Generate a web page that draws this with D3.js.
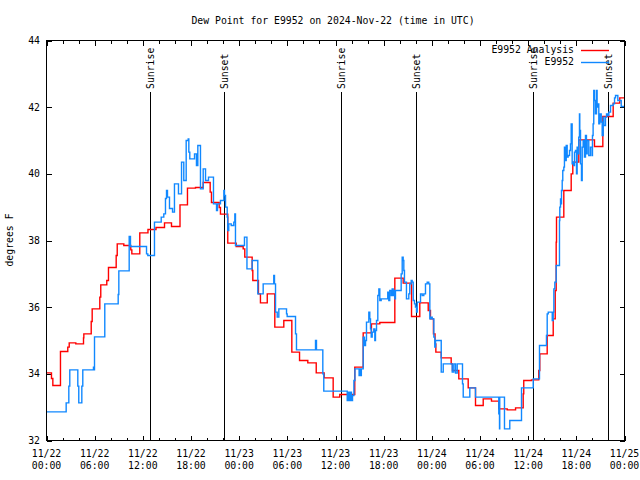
<!DOCTYPE html>
<html><head><meta charset="utf-8">
<script src="https://cdn.jsdelivr.net/npm/d3@7"></script>
<style>body{margin:0;background:#fff}svg{display:block}</style>
</head><body><svg id="c" width="640" height="480"></svg>
<script>
const titleText = "Dew Point for E9952 on 2024-Nov-22 (time in UTC)";
const yAxisLabel = "degrees F";
const xMajorHours = [0,6,12,18,24,30,36,42,48,54,60,66,72];
const xMinorHours = [2,4,8,10,14,16,20,22,26,28,32,34,38,40,44,46,50,52,56,58,62,64,68,70];
const xTickDates = ["11/22","11/22","11/22","11/22","11/23","11/23","11/23","11/23","11/24","11/24","11/24","11/24","11/25"];
const xTickTimes = ["00:00","06:00","12:00","18:00","00:00","06:00","12:00","18:00","00:00","06:00","12:00","18:00","00:00"];
const yTicks = [32,34,36,38,40,42,44];
const sunHours = [12.95,22.15,36.72,46.06,60.64,69.98];
const sunLabels = ["Sunrise","Sunset","Sunrise","Sunset","Sunrise","Sunset"];
const seriesNames = ["E9952 Analysis","E9952"];
const seriesColors = ["#ff0000","#1088ff"];

// Analysis (hours since 11/22 00:00 UTC, deg F)
const analysisHours = [0,0.62,0.79,1.74,2.65,2.83,3.65,4.61,4.65,5.57,5.69,6.64,6.76,7.51,7.72,8.68,8.81,9.63,10.50,10.63,11.62,12.64,13.64,14.70,15.57,16.63,17.56,18.56,19.52,20.39,20.55,21.51,21.67,22.58,23.63,24.50,24.70,25.62,25.70,26.40,26.65,27.50,28.44,29.56,30.56,31.52,32.55,33.60,34.59,35.71,36.53,38.40,39.45,40.48,41.52,43.39,44.43,45.47,46.50,47.55,47.83,48.20,48.40,48.50,49.17,50.41,50.57,51.36,52.53,53.44,54.40,55.43,56.34,57.39,58.43,59.38,59.45,60.41,61.32,61.45,62.37,63.12,63.37,63.49,63.53,64.44,65.36,65.56,66.31,68.26,69.30,70.59,71.41];
const analysisValues = [34.03,33.86,33.65,34.67,34.8,34.93,34.9,35.08,35.2,35.57,35.95,36.3,36.67,36.8,37.19,37.55,37.9,37.85,37.72,37.6,38.23,38.33,38.39,38.53,38.42,39.07,39.57,39.59,39.74,39.45,39.14,38.99,38.79,37.92,37.82,37.75,37.5,37.1,36.8,36.4,36.13,36.4,35.4,35.6,34.65,34.4,34.33,34.03,33.88,33.3,33.38,34.2,35.23,35.5,35.54,36.87,36.72,35.72,36.13,35.9,35.65,35.2,34.9,34.65,34.48,34.3,34.1,33.85,33.58,33.05,33.25,33.18,32.95,32.92,32.98,33.4,33.8,33.82,34.1,34.6,35.15,35.65,36.5,37.95,38.7,39.5,40.0,40.35,41.02,40.82,41.72,42.12,42.28];

// Station observations
const obsHours = [0,2.45,2.78,2.90,3.90,4.02,4.40,4.52,5.85,5.92,5.98,7.26,8.93,9.01,10.30,10.46,12.46,12.62,13.45,14.29,14.61,14.82,14.95,15.07,15.32,15.70,15.94,16.44,16.82,17.10,17.40,17.65,17.73,17.85,18.44,18.68,18.85,19.10,19.18,19.52,19.81,20.18,20.80,21.18,21.30,21.67,22.09,22.17,22.30,22.51,22.58,22.70,23.01,23.33,23.46,23.54,24.66,24.97,25.62,26.32,26.99,28.31,28.40,28.53,28.74,28.94,29.90,29.98,31.02,31.14,33.51,33.63,34.42,34.54,37.46,37.62,37.74,37.87,37.99,38.12,38.29,38.42,38.94,39.04,39.16,39.22,39.45,39.61,39.74,39.86,40.15,40.27,40.36,40.45,40.57,40.77,40.90,40.98,41.11,41.27,41.40,41.52,41.69,42.51,42.64,42.76,42.94,43.06,43.19,43.26,43.39,43.47,44.18,44.31,44.43,44.51,44.59,44.84,45.13,45.25,45.43,45.55,45.68,45.84,45.96,46.09,46.18,46.59,46.80,47.00,47.21,47.42,47.62,47.75,47.92,48.05,48.25,48.37,48.46,49.17,49.42,50.54,50.74,50.95,51.16,51.82,51.91,52.73,53.44,56.34,56.43,56.46,57.05,57.71,59.17,60.63,61.41,62.28,62.37,62.50,63.00,63.12,63.20,63.32,63.49,63.90,63.94,64.03,64.11,64.15,64.24,64.31,64.44,64.52,64.65,64.74,64.86,64.98,65.15,65.27,65.36,65.48,65.56,65.68,65.77,65.89,66.02,66.10,66.18,66.30,66.39,66.43,66.52,66.64,66.73,66.85,67.01,67.14,67.26,67.35,67.55,67.76,67.97,68.01,68.09,68.17,68.26,68.38,68.51,68.59,68.72,68.80,68.92,69.10,69.22,69.35,69.42,69.63,69.76,69.92,70.05,70.26,70.59,70.76,70.88,71.17,71.59];
const obsValues = [32.86,33.13,33.63,34.12,33.63,33.13,33.63,34.12,34.2,34.12,35.11,36.1,36.38,37.09,38.12,37.82,37.6,37.55,38.55,38.7,38.8,39.26,39.5,39.3,38.96,38.85,39.7,39.4,40.35,39.8,41.0,41.05,40.65,40.45,40.6,40.25,40.85,40.85,39.55,40.15,39.8,39.9,39.1,38.9,39.1,39.2,39.5,39.35,39.0,38.7,38.3,38.5,38.45,38.55,38.8,37.85,38.1,37.15,37.4,36.4,36.7,36.95,36.7,35.85,35.7,35.95,35.8,35.72,35.2,34.72,35.0,34.72,34.0,33.48,33.2,33.45,33.2,33.45,33.2,33.35,33.8,34.15,33.95,34.15,33.95,34.15,35.1,34.85,35.0,35.55,35.85,35.65,35.35,35.1,35.25,35.35,35.0,35.3,35.6,36.35,36.55,36.2,36.25,36.45,36.2,36.5,36.35,36.55,36.35,36.5,36.25,36.5,37.0,37.5,37.4,37.1,36.75,36.25,36.4,36.7,36.8,36.75,36.2,36.1,36.0,35.85,36.15,36.4,36.35,36.4,36.7,36.75,36.7,35.65,35.7,35.65,35.1,34.8,35.0,34.05,34.3,34.05,34.3,34.02,34.3,33.7,33.3,33.58,33.3,32.8,32.35,33.3,32.35,32.6,33.58,33.85,34.85,35.15,35.8,35.85,35.6,35.85,36.55,36.75,37.25,38.6,39.0,39.25,39.1,39.5,39.8,40.1,40.2,40.8,40.4,40.85,40.5,40.55,40.7,40.9,41.5,40.3,40.35,40.25,40.65,40.7,40.0,40.8,40.6,41.1,41.8,41.3,40.3,39.8,40.8,41.0,40.5,41.15,40.6,41.0,40.55,40.8,40.55,41.15,41.5,42.5,42.2,41.8,42.5,42.0,42.1,41.5,41.8,41.55,41.15,41.7,41.45,41.7,41.8,41.75,41.85,42.05,42.1,42.28,42.35,42.2,42.02];

const font = "'DejaVu Sans Mono', 'Liberation Mono', monospace";
const svg = d3.select("#c");
svg.append("rect").attr("width",640).attr("height",480).attr("fill","#fff");

const L = 46.5, R = 624.5, T = 40.5, B = 440.5;
const x = d3.scaleLinear().domain([0,72]).range([L,R]);
const y = d3.scaleLinear().domain([32,44]).range([B,T]);

const txt = (sel) => sel.attr("font-family",font).attr("font-size","9.8px").attr("fill","#000");

// title
svg.append("text").attr("x",333).attr("y",24).attr("text-anchor","middle").text(titleText).call(txt);
// y label
svg.append("text").attr("transform","translate(13,240) rotate(-90)").attr("text-anchor","middle").text(yAxisLabel).call(txt);

svg.append("clipPath").attr("id","clip").append("rect").attr("x",L).attr("y",T).attr("width",R-L).attr("height",B-T);

// axes
function axisG(gen, tx, ty){
  const g = svg.append("g").attr("transform",`translate(${tx},${ty})`).call(gen);
  g.select(".domain").remove();
  g.selectAll("line").attr("stroke","#000").attr("shape-rendering","crispEdges");
  return g;
}
axisG(d3.axisBottom(x).tickValues(xMajorHours).tickSize(-5).tickFormat(""),0,B);
axisG(d3.axisBottom(x).tickValues(xMinorHours).tickSize(-3).tickFormat(""),0,B);
axisG(d3.axisTop(x).tickValues(xMajorHours).tickSize(-5).tickFormat(""),0,T);
axisG(d3.axisTop(x).tickValues(xMinorHours).tickSize(-3).tickFormat(""),0,T);
const yl = axisG(d3.axisLeft(y).tickValues(yTicks).tickSize(-5).tickPadding(6).tickFormat(d3.format("d")),L,0);
yl.selectAll("text").attr("x",-6.5).call(txt);
axisG(d3.axisRight(y).tickValues(yTicks).tickSize(-5).tickFormat(""),R,0);

// x labels (two lines)
const xl = svg.append("g");
xMajorHours.forEach((h,i)=>{
  const t = xl.append("text").attr("x",x(h)).attr("text-anchor","middle").call(txt);
  t.append("tspan").attr("x",x(h)).attr("y",457).text(xTickDates[i]);
  t.append("tspan").attr("x",x(h)).attr("y",469).text(xTickTimes[i]);
});

// sunrise / sunset
const sg = svg.append("g");
sunHours.forEach((h,i)=>{
  const sx = Math.round(x(h)-0.5)+0.5;
  sg.append("line").attr("x1",sx).attr("x2",sx).attr("y1",92).attr("y2",B).attr("stroke","#000").attr("stroke-width",1).attr("shape-rendering","crispEdges");
  sg.append("text").attr("transform",`translate(${sx},89) rotate(-90)`).attr("dy","0.35em").attr("text-anchor","start").text(sunLabels[i]).call(txt);
});

// series
const line = d3.line().x(d=>x(d[0])).y(d=>y(d[1])).curve(d3.curveStepAfter);
function pts(ts, vs){ const p = ts.map((t,i)=>[t,vs[i]]); p.push([72, vs[vs.length-1]]); return p; }
const lg = svg.append("g").attr("clip-path","url(#clip)");
lg.append("path").attr("d",line(pts(analysisHours,analysisValues))).attr("fill","none").attr("stroke",seriesColors[0]).attr("stroke-width",1.4);
lg.append("path").attr("d",line(pts(obsHours,obsValues))).attr("fill","none").attr("stroke",seriesColors[1]).attr("stroke-width",1.4);

// border
svg.append("rect").attr("x",L).attr("y",T).attr("width",R-L).attr("height",B-T).attr("fill","none").attr("stroke","#000").attr("shape-rendering","crispEdges");

// legend
seriesNames.forEach((n,i)=>{
  const ly = 50 + i*12;
  svg.append("text").attr("x",574).attr("y",ly).attr("dy","0.35em").attr("text-anchor","end").text(n).call(txt);
  svg.append("line").attr("x1",581).attr("x2",609).attr("y1",ly+0.5).attr("y2",ly+0.5).attr("stroke",seriesColors[i]).attr("stroke-width",1.4);
});
</script></body></html>
